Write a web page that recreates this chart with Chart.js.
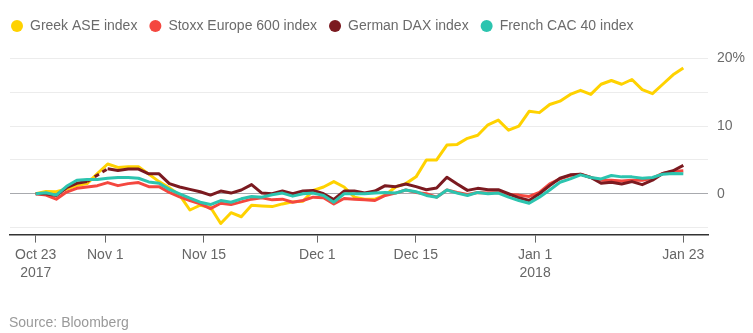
<!DOCTYPE html>
<html>
<head>
<meta charset="utf-8">
<script src="https://cdn.jsdelivr.net/npm/chart.js@4.4.1/dist/chart.umd.min.js"></script>
<style>
  html, body { margin: 0; padding: 0; background: #fff; }
  #wrap { width: 753px; height: 333px; position: relative; }
</style>
</head>
<body>
<div id="wrap"><canvas id="indexChart"></canvas></div>
<script>
// Cumulative change since Oct 23 2017, % (one value per trading session)
const greekAse = [0, 0.35, 0.3, 0.7, 1.2, 1.5, 3.0, 4.4, 3.9, 4.0, 4.0, 2.9, 1.8, 0.9, -0.2, -2.4,
  -1.7, -2.0, -4.4, -2.8, -3.4, -1.7, -1.8, -1.9, -1.5, -1.2, -1.1, 0.5, 1.0, 1.8, 1.0, -0.5,
  -0.8, -0.8, -0.2, 1.0, 1.5, 2.5, 5.0, 5.0, 7.2, 7.3, 8.2, 8.65, 10.2, 10.9, 9.4, 10.0,
  12.2, 12.0, 13.2, 13.7, 14.7, 15.3, 14.7, 16.2, 16.75, 16.2, 16.9, 15.4, 14.8, 16.2, 17.6, 18.6];
const stoxx600 = [0, -0.2, -0.8, 0.25, 0.8, 1.0, 1.2, 1.65, 1.2, 1.5, 1.65, 1.05, 1.05, 0.2, -0.45, -1.0,
  -1.5, -2.2, -1.4, -1.6, -1.2, -0.8, -0.6, -0.9, -0.8, -1.25, -1.0, -0.5, -0.6, -1.5, -0.7, -0.8,
  -0.9, -1.0, -0.25, 0.1, 0.55, 0.2, 0.0, -0.5, 0.55, 0.2, -0.1, 0.2, 0.1, 0.2, -0.1, -0.2,
  -0.4, 0.2, 1.45, 2.2, 2.7, 2.9, 2.4, 2.0, 2.0, 1.9, 2.0, 2.0, 2.3, 3.0, 3.3, 3.4];
// DAX was closed on Oct 31 (Reformation Day)
const germanDax = [0, 0, -0.25, 0.9, 1.55, 1.8, null, 3.7, 3.45, 3.65, 3.65, 2.95, 2.95, 1.5, 1.0, 0.65,
  0.3, -0.2, 0.4, 0.1, 0.55, 1.35, 0.1, 0.0, 0.4, 0.0, 0.4, 0.5, 0.0, -0.85, 0.4, 0.4,
  0.1, 0.4, 1.2, 1.05, 1.45, 1.05, 0.6, 0.85, 2.45, 1.45, 0.5, 0.8, 0.6, 0.6, 0.0, -0.6,
  -1.0, 0.0, 1.2, 2.3, 2.8, 2.9, 2.4, 1.55, 1.7, 1.45, 1.8, 1.35, 2.0, 3.0, 3.4, 4.2];
const frenchCac = [0, 0.15, -0.2, 1.1, 2.0, 2.1, 2.1, 2.3, 2.4, 2.4, 2.3, 1.75, 1.55, 0.65, 0.0, -0.65,
  -1.25, -1.6, -1.0, -1.25, -0.75, -0.4, -0.5, -0.15, 0.1, -0.35, 0.0, 0.1, -0.25, -1.25, 0.0, 0.0,
  0.0, 0.1, 0.2, 0.1, 0.55, 0.3, -0.25, -0.5, 0.55, 0.1, -0.25, 0.2, 0.0, 0.1, -0.5, -1.0,
  -1.4, -0.5, 0.55, 1.7, 2.2, 2.8, 2.4, 2.2, 2.7, 2.5, 2.5, 2.3, 2.4, 2.9, 3.0, 2.95];

// Session number of each date tick, and its label
const tickSessions = [0, 6.77, 16.37, 27.4, 36.97, 48.58, 63];
const tickLabels = [['Oct 23', '2017'], 'Nov 1', 'Nov 15', 'Dec 1', 'Dec 15', ['Jan 1', '2018'], 'Jan 23'];

const sessions = greekAse.map((_, i) => i);

const FONT = "'Liberation Sans', Arial, sans-serif";

const dashedGap = (ctx, value) => (ctx.p0.skip || ctx.p1.skip) ? value : undefined;

function series(label, data, color, order) {
    return {
        label: label,
        data: data,
        borderColor: color,
        backgroundColor: color,
        pointBackgroundColor: color,
        pointBorderWidth: 0,
        pointRadius: 0,
        pointHoverRadius: 0,
        borderWidth: 3,
        tension: 0,
        borderJoinStyle: 'round',
        spanGaps: true,
        segment: { borderDash: ctx => dashedGap(ctx, [5, 4]) },
        order: order
    };
}

// footer note under the axis
const sourceNote = {
    id: 'sourceNote',
    afterDraw(chart) {
        const ctx = chart.ctx;
        ctx.save();
        ctx.font = '14px ' + FONT;
        ctx.fillStyle = '#9a9a9a';
        ctx.textBaseline = 'middle';
        ctx.textAlign = 'left';
        ctx.fillText('Source: Bloomberg', 9, 323);
        ctx.restore();
    }
};

const ctx = document.getElementById('indexChart').getContext('2d');
new Chart(ctx, {
    type: 'line',
    data: {
        labels: sessions,
        datasets: [
            series('Greek ASE index', greekAse, '#FFD200', 3),
            series('Stoxx Europe 600 index', stoxx600, '#F4473F', 2),
            series('German DAX index', germanDax, '#7B1A20', 1),
            series('French CAC 40 index', frenchCac, '#2CC4AF', 0)
        ]
    },
    options: {
        responsive: true,
        maintainAspectRatio: false,
        animation: false,
        devicePixelRatio: 1,
        layout: { padding: { top: 7, right: 8, bottom: 48, left: -1 } },
        plugins: {
            legend: {
                position: 'top',
                align: 'start',
                labels: {
                    usePointStyle: true,
                    pointStyle: 'circle',
                    boxWidth: 12,
                    boxHeight: 8.5,
                    padding: 12,
                    color: '#6b6b6b',
                    font: { family: FONT, size: 14 },
                    sort: (a, b) => a.datasetIndex - b.datasetIndex
                }
            },
            tooltip: { enabled: false }
        },
        scales: {
            x: {
                type: 'linear',
                min: -2.5,
                max: 65.4,
                afterBuildTicks: axis => {
                    axis.ticks = tickSessions.map(v => ({ value: v }));
                },
                grid: {
                    drawOnChartArea: false,
                    drawTicks: true,
                    tickLength: 8,
                    color: '#666'
                },
                border: { display: true, color: '#333', width: 1.5 },
                ticks: {
                    autoSkip: false,
                    maxRotation: 0,
                    padding: 3,
                    color: '#666',
                    font: { family: FONT, size: 14, lineHeight: 1.3 },
                    callback: (value, index) => tickLabels[index]
                }
            },
            y: {
                position: 'right',
                min: -6.04,
                max: 22.3,
                afterFit: axis => { axis.width = 37; },
                grid: {
                    drawTicks: false,
                    color: c => c.tick.value === 0 ? '#a8aaae' : '#ececec',
                    lineWidth: 1
                },
                border: { display: false },
                ticks: {
                    stepSize: 5,
                    includeBounds: false,
                    padding: 9,
                    color: '#6b6b6b',
                    font: { family: FONT, size: 14 },
                    callback: v => v === 20 ? '20%' : (v % 10 === 0 ? String(v) : '')
                }
            },
            gutter: {
                type: 'linear',
                position: 'left',
                display: true,
                grid: { display: false },
                border: { display: false },
                ticks: { display: false },
                afterFit: axis => { axis.width = 11; }
            }
        }
    },
    plugins: [sourceNote]
});
</script>
</body>
</html>
